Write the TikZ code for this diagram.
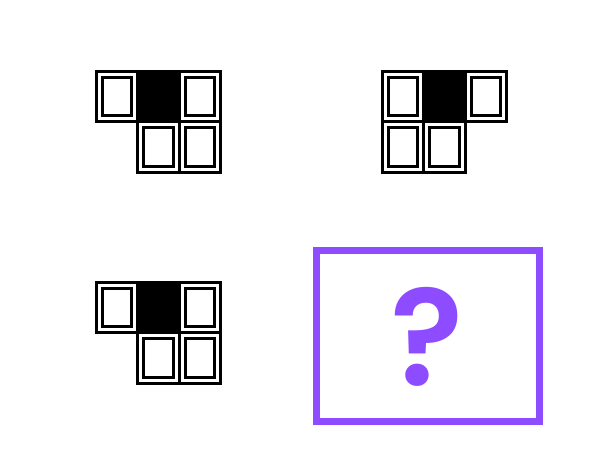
\documentclass[tikz,border=0pt]{standalone}
\usepackage{fontspec}
\newfontfamily\qfont{Poppins}[BoldFont={* SemiBold}]
\definecolor{qpurple}{RGB}{141,76,255}
\newcommand{\mycell}[3]{% x y type(0 white,1 black)
  \ifnum#3=1
    \fill[black] (#1-1.5,#2-1.5) rectangle ++(44.5,53.5);
  \else
    \draw[line width=3pt] (#1,#2) rectangle ++(41.5,50.5);
    \draw[line width=3pt] (#1+6,#2+6) rectangle ++(29.5,38.5);
  \fi}
\newcommand{\panelA}[2]{% L-shape: bottom right
  \mycell{#1}{#2}{0}\mycell{#1+41.5}{#2}{1}\mycell{#1+83}{#2}{0}
  \mycell{#1+41.5}{#2+50.5}{0}\mycell{#1+83}{#2+50.5}{0}}
\newcommand{\panelB}[2]{% bottom left
  \mycell{#1}{#2}{0}\mycell{#1+41.5}{#2}{1}\mycell{#1+83}{#2}{0}
  \mycell{#1}{#2+50.5}{0}\mycell{#1+41.5}{#2+50.5}{0}}
\begin{document}
\begin{tikzpicture}[x=1pt,y=-1pt,line join=miter]
\useasboundingbox (0,0) rectangle (600,455);
\panelA{96}{71}
\panelB{382}{71}
\panelA{96}{282}
\draw[qpurple,line width=7pt] (316.5,250.5) rectangle (539.5,421.5);
\node[text=qpurple,font=\qfont\bfseries\fontsize{136}{136}\selectfont,inner sep=0pt] (q) at (427,337) {?};
\end{tikzpicture}
\end{document}
